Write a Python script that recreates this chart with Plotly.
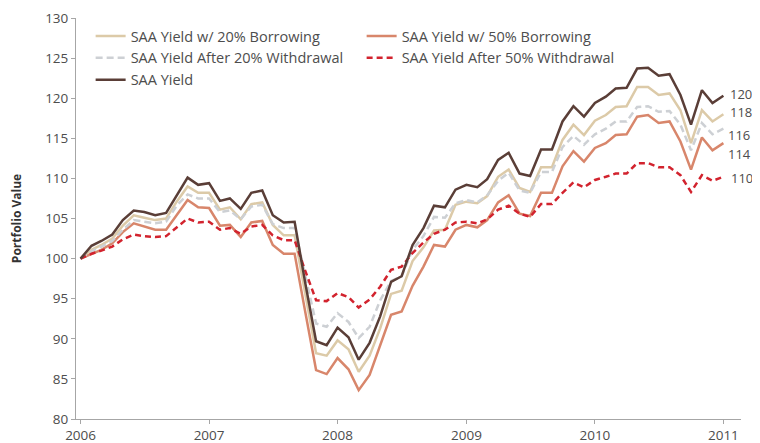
import pandas as pd
import plotly.graph_objects as go

dates = pd.date_range("2006-01-01", periods=61, freq="MS")

saa_yield = [100.0, 101.6, 102.2, 103.0, 104.8, 106.0, 105.8, 105.4, 105.7, 107.8,
             110.1, 109.2, 109.4, 107.2, 107.5, 106.2, 108.2, 108.5, 105.4, 104.5,
             104.6, 97.0, 89.7, 89.2, 91.4, 90.2, 87.4, 89.5, 92.8, 97.1,
             97.8, 101.7, 103.8, 106.6, 106.4, 108.6, 109.2, 108.9, 109.9, 112.3,
             113.2, 110.6, 110.3, 113.6, 113.6, 117.1, 119.0, 117.7, 119.4, 120.2,
             121.2, 121.3, 123.7, 123.8, 122.8, 123.0, 120.4, 116.7, 121.0, 119.4,
             120.3]

borrow20 = [100.0, 101.1, 101.7, 102.5, 104.1, 105.4, 105.1, 104.8, 105.0, 107.1,
            109.0, 108.2, 108.2, 106.1, 106.4, 104.9, 106.8, 107.0, 104.2, 102.9,
            102.9, 95.5, 88.2, 87.9, 89.8, 88.7, 85.9, 87.9, 91.3, 95.6,
            96.0, 99.7, 101.4, 103.5, 103.6, 106.7, 107.1, 106.9, 107.8, 110.2,
            111.1, 108.8, 108.3, 111.4, 111.4, 114.8, 116.7, 115.4, 117.2, 117.9,
            118.9, 119.0, 121.4, 121.4, 120.4, 120.6, 118.5, 114.4, 118.5, 117.1,
            118.0]

withdraw20 = [100.0, 100.9, 101.5, 102.2, 103.6, 104.8, 104.6, 104.4, 104.6, 106.6,
              108.0, 107.5, 107.5, 105.8, 106.0, 104.9, 106.5, 106.7, 104.3, 103.8,
              103.8, 97.8, 91.9, 91.5, 93.2, 92.1, 90.1, 91.5, 94.8, 97.2,
              97.8, 101.1, 102.8, 105.2, 105.1, 106.9, 107.3, 107.0, 107.9, 109.7,
              110.7, 108.5, 108.2, 110.8, 110.8, 113.9, 115.3, 114.2, 115.5, 116.2,
              117.1, 117.1, 118.9, 119.0, 118.3, 118.4, 116.7, 113.5, 116.9, 115.5,
              116.2]

borrow50 = [100.0, 100.6, 101.1, 101.9, 103.3, 104.4, 104.0, 103.6, 103.6, 105.4,
            107.3, 106.4, 106.3, 104.1, 104.2, 102.7, 104.5, 104.7, 101.7, 100.6,
            100.6, 93.4, 86.1, 85.6, 87.6, 86.2, 83.6, 85.5, 89.2, 93.0,
            93.4, 96.6, 99.0, 101.7, 101.5, 103.6, 104.2, 103.9, 104.8, 107.0,
            107.9, 105.6, 105.3, 108.2, 108.2, 111.5, 113.4, 112.1, 113.8, 114.4,
            115.4, 115.5, 117.7, 117.9, 116.9, 117.1, 114.6, 111.1, 115.1, 113.5,
            114.4]

withdraw50 = [100.0, 100.6, 101.0, 101.5, 102.4, 103.0, 102.8, 102.7, 102.8, 103.9,
              105.0, 104.5, 104.6, 103.6, 103.8, 103.1, 104.0, 104.2, 102.9, 102.3,
              102.3, 98.5, 94.8, 94.7, 95.7, 95.2, 93.9, 94.9, 96.5, 98.6,
              99.0, 100.7, 102.0, 103.1, 103.6, 104.5, 104.6, 104.4, 104.9, 106.1,
              106.6, 105.6, 105.2, 106.8, 106.8, 108.2, 109.5, 108.9, 109.8, 110.2,
              110.6, 110.6, 111.9, 111.9, 111.4, 111.4, 110.4, 108.3, 110.4, 109.7,
              110.2]

year_ticks = ["2006", "2007", "2008", "2009", "2010", "2011"]
y_ticks = [80, 85, 90, 95, 100, 105, 110, 115, 120, 125, 130]

series = [
    ("SAA Yield w/ 20% Borrowing", borrow20, "#dccaa8", "solid", 5, 2),
    ("SAA Yield w/ 50% Borrowing", borrow50, "#d8866b", "solid", 3, -11),
    ("SAA Yield After 20% Withdrawal", withdraw20, "#cdd0d4", "7px,4px", 3, -6),
    ("SAA Yield After 50% Withdrawal", withdraw50, "#d2232e", "6px,4px", 6, -1),
    ("SAA Yield", saa_yield, "#5a3e37", "solid", 5, 2),
]

fig = go.Figure()
for name, vals, color, dash, xs, ys in series:
    fig.add_trace(go.Scatter(
        x=dates, y=vals, name=name, mode="lines",
        line=dict(color=color, width=2.5, dash=dash),
    ))
    fig.add_annotation(
        x=dates[-1], y=vals[-1], text=str(round(vals[-1])),
        showarrow=False, xanchor="left", yanchor="middle",
        xshift=xs, yshift=ys,
        font=dict(family="Open Sans", size=13, color="#4d4d4d"),
    )

# the page adds an 8px body margin, so the figure is sized to fill the rest
fig.update_layout(
    width=752, height=435,
    margin=dict(l=67.5, r=19, t=10, b=24, autoexpand=False),
    plot_bgcolor="white", paper_bgcolor="white",
    font=dict(family="Open Sans", size=13, color="#4d4d4d"),
    showlegend=True,
    legend=dict(
        orientation="h", x=0.022, y=0.995, xanchor="left", yanchor="top",
        entrywidth=226, font=dict(family="Open Sans", size=14.5, color="#4d4d4d"),
        bgcolor="rgba(0,0,0,0)", traceorder="normal",
    ),
    xaxis=dict(
        type="date", automargin=False,
        range=["2005-12-19", "2011-02-20"],
        tickvals=[pd.Timestamp(y + "-01-01") for y in year_ticks],
        ticktext=year_ticks,
        showline=True, linecolor="#a6a6a6", linewidth=1,
        ticks="outside", ticklen=4, tickcolor="#a6a6a6",
        showgrid=False, zeroline=False,
        tickfont=dict(family="Open Sans", size=13.5, color="#4d4d4d"),
    ),
    yaxis=dict(
        range=[80, 130], tickvals=y_ticks, automargin=False,
        showline=True, linecolor="#a6a6a6", linewidth=1,
        ticks="outside", ticklen=4, tickcolor="#a6a6a6",
        showgrid=False, zeroline=False,
        tickfont=dict(family="Open Sans", size=13.5, color="#4d4d4d"),
        title=dict(text="<b>Portfolio Value</b>", standoff=20,
                   font=dict(family="Open Sans", size=12, color="#333333")),
    ),
)

fig.write_html("out.html")
